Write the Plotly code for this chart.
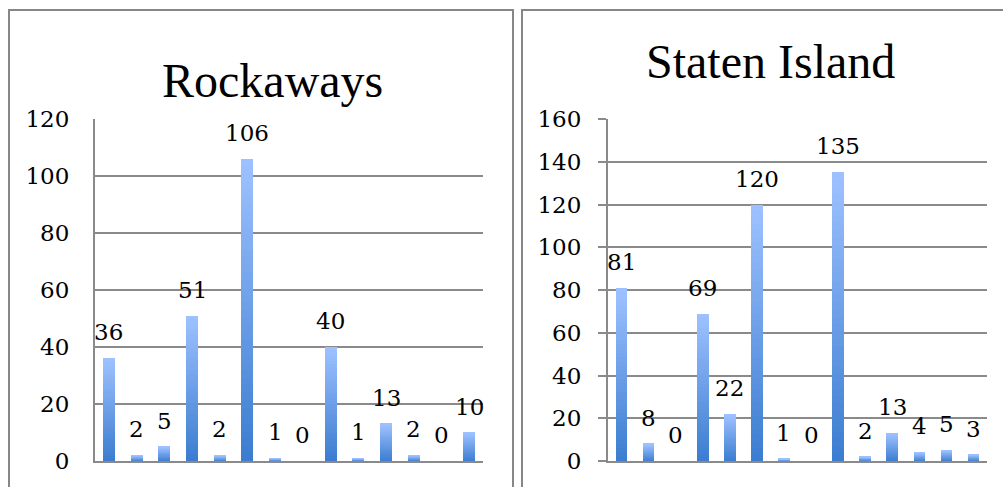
import plotly.graph_objects as go
from plotly.subplots import make_subplots

# Category positions (14 groups per area, unlabeled on the axis)
categories = list(range(14))

rockaways_values = [36, 2, 5, 51, 2, 106, 1, 0, 40, 1, 13, 2, 0, 10]
staten_values = [81, 8, 0, 69, 22, 120, 1, 0, 135, 2, 13, 4, 5, 3]

rockaways_ticks = [0, 20, 40, 60, 80, 100, 120]
staten_ticks = [0, 20, 40, 60, 80, 100, 120, 140, 160]

titles = ["Rockaways", "Staten Island"]

TITLE_FONT = "Liberation Serif"
NUM_FONT = "DejaVu Serif"
NUM_SIZE = 23
GRID = "#8a8a8a"
DARK = (60, 125, 208)    # bottom of each bar
LIGHT = (157, 193, 255)  # top of each bar
N_STEPS = 40             # slices used to build the vertical gradient

W, H = 1003, 487


def px_x(p):
    return p / W


def px_y(p):
    return 1 - p / H


fig = make_subplots(rows=1, cols=2)


def blend(t):
    r, g, b = (round(DARK[i] + (LIGHT[i] - DARK[i]) * t) for i in range(3))
    return f"rgb({r},{g},{b})"


def add_gradient_bars(values, col):
    # each bar is stacked from N_STEPS equal slices, dark at the base, light at the top
    for k in range(N_STEPS):
        fig.add_trace(
            go.Bar(
                x=categories,
                y=[v / N_STEPS for v in values],
                width=0.43,
                marker=dict(color=blend(k / (N_STEPS - 1)), line=dict(width=0)),
                showlegend=False,
                hoverinfo="skip",
            ),
            row=1, col=col,
        )
    xref = "x" if col == 1 else "x2"
    yref = "y" if col == 1 else "y2"
    for c, v in zip(categories, values):
        fig.add_annotation(
            x=c, y=v, xref=xref, yref=yref, text=str(v), showarrow=False,
            yshift=26, yanchor="middle", xanchor="center",
            font=dict(family=NUM_FONT, size=NUM_SIZE, color="black"),
        )


add_gradient_bars(rockaways_values, 1)
add_gradient_bars(staten_values, 2)

fig.update_layout(
    width=W, height=H,
    margin=dict(l=0, r=0, t=0, b=0, autoexpand=False),
    paper_bgcolor="white", plot_bgcolor="white",
    barmode="stack",
    font=dict(family=TITLE_FONT, color="black"),
)

plot_y = [px_y(461), px_y(119)]

fig.update_xaxes(
    range=[-0.5, 13.5], showticklabels=False, showgrid=False, zeroline=False,
    showline=True, linecolor=GRID, linewidth=2, ticks="", automargin=False,
)
fig.update_layout(
    xaxis=dict(domain=[px_x(95), px_x(483)], anchor="y"),
    xaxis2=dict(domain=[px_x(608), px_x(987)], anchor="y2"),
    yaxis=dict(
        domain=plot_y, range=[0, 120], tickvals=rockaways_ticks,
        showgrid=True, gridcolor=GRID, gridwidth=2, zeroline=False,
        showline=True, linecolor=GRID, linewidth=2, ticks="",
        ticklabelstandoff=19,
        tickfont=dict(family=NUM_FONT, size=NUM_SIZE, color="black"),
        anchor="x", automargin=False,
    ),
    yaxis2=dict(
        domain=plot_y, range=[0, 160], tickvals=staten_ticks,
        showgrid=True, gridcolor=GRID, gridwidth=2, zeroline=False,
        showline=True, linecolor=GRID, linewidth=2,
        ticks="outside", ticklen=8, tickwidth=2, tickcolor=GRID,
        ticklabelstandoff=12,
        tickfont=dict(family=NUM_FONT, size=NUM_SIZE, color="black"),
        anchor="x2", automargin=False,
    ),
)

# Panel titles
fig.add_annotation(
    x=px_x(272), y=px_y(80), xref="paper", yref="paper", text=titles[0],
    showarrow=False, xanchor="center", yanchor="middle",
    font=dict(family=TITLE_FONT, size=48, color="black"),
)
fig.add_annotation(
    x=px_x(770), y=px_y(61), xref="paper", yref="paper", text=titles[1],
    showarrow=False, xanchor="center", yanchor="middle",
    font=dict(family=TITLE_FONT, size=48, color="black"),
)

# Panel frames
for x0, x1 in [(9, 513), (522, 1012)]:
    fig.add_shape(
        type="rect", xref="paper", yref="paper",
        x0=px_x(x0), x1=px_x(x1), y0=px_y(10), y1=px_y(520),
        line=dict(color="#878787", width=2), fillcolor="rgba(0,0,0,0)",
        layer="below",
    )

fig.write_html("out.html")
